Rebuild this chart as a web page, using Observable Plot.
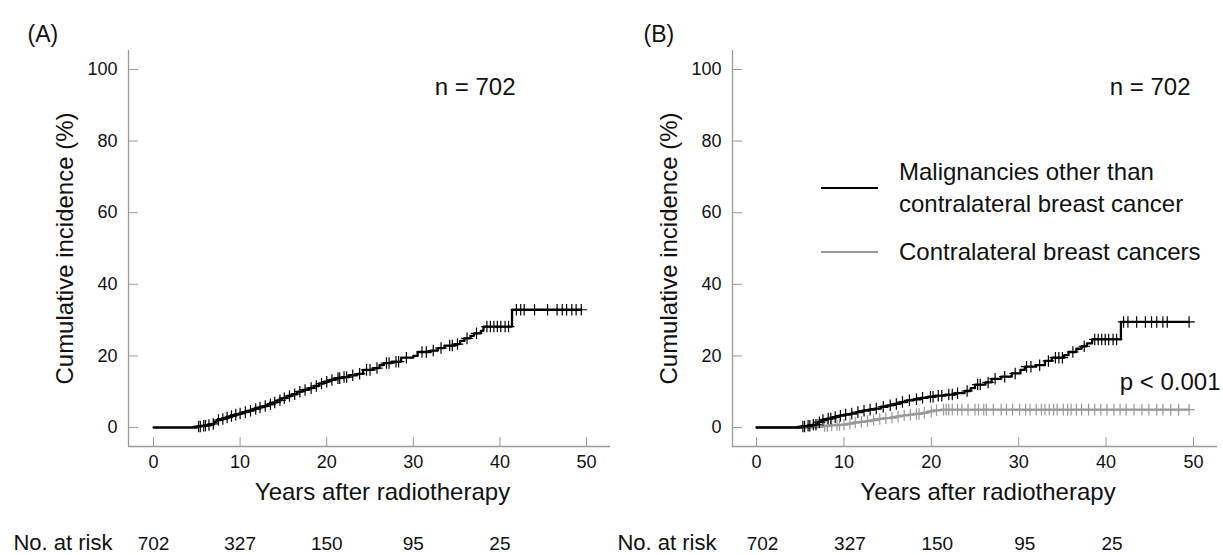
<!DOCTYPE html>
<html>
<head>
<meta charset="utf-8">
<script src="https://cdn.jsdelivr.net/npm/d3@7"></script>
<script src="https://cdn.jsdelivr.net/npm/@observablehq/plot@0.6"></script>
<style>
  html, body { margin: 0; padding: 0; background: #fff; }
  #wrap { position: relative; width: 1223px; height: 555px; overflow: hidden; font-family: "Liberation Sans", Arial, sans-serif; }
  #panelA { position: absolute; left: 0; top: 0; }
  #panelB { position: absolute; left: 611px; top: 0; }
  #legend { position: absolute; left: 821px; top: 156px; font-size: 24px; color: #111; line-height: 32px; }
  .row { display: flex; align-items: center; }
  .sw { width: 57px; height: 0; margin-right: 21px; }
</style>
</head>
<body>
<div id="wrap">
  <div id="panelA"></div>
  <div id="panelB"></div>
  <div id="legend">
    <div class="row" style="height:64px"><div class="sw" style="border-top:2.5px solid #000"></div><div>Malignancies other than<br>contralateral breast cancer</div></div>
    <div class="row" style="height:56px;margin-top:4px"><div class="sw" style="border-top:2.5px solid #999"></div><div>Contralateral breast cancers</div></div>
  </div>
</div>
<script>
// ---- Data ----
const xTicks = [0, 10, 20, 30, 40, 50];
const yTicks = [0, 20, 40, 60, 80, 100];
const riskTimes = [0, 10, 20, 30, 40];
const riskCounts = [702, 327, 150, 95, 25];

// Panel A: all second malignancies
const aTimes = [0, 5.0, 5.6, 6.2, 6.7, 7.0, 7.3, 7.8, 8.3, 8.8, 9.3, 9.8, 10.3, 10.9, 11.5, 12.1, 12.6, 13.2, 13.8, 14.3, 14.8, 15.4, 16.0, 16.6, 17.2, 17.9, 18.5, 19.1, 19.7, 20.3, 21.0, 21.8, 22.6, 23.5, 24.2, 25.4, 26.1, 26.6, 27.5, 28.6, 30.0, 30.5, 32.0, 32.8, 33.6, 34.8, 35.4, 35.9, 36.6, 37.0, 37.8, 38.1, 41.4, 49.4];
const aCum = [0, 0.3, 0.5, 0.7, 1.0, 1.6, 2.1, 2.4, 2.8, 3.2, 3.6, 3.9, 4.3, 4.7, 5.2, 5.6, 6.0, 6.5, 7.0, 7.6, 8.2, 8.8, 9.3, 10.0, 10.5, 11.0, 11.6, 12.3, 12.8, 13.3, 13.8, 14.1, 14.6, 15.0, 16.1, 16.6, 17.4, 18.0, 18.4, 19.5, 20.0, 21.1, 21.5, 22.2, 22.9, 23.3, 24.2, 24.9, 25.6, 26.3, 27.0, 28.2, 32.9, 32.9];
const aCensor = [5.2, 5.4, 5.8, 6.0, 6.4, 6.9, 7.5, 8.0, 8.5, 9.0, 9.5, 10.0, 10.6, 11.2, 11.8, 12.3, 12.9, 13.5, 14.0, 14.6, 15.1, 15.7, 16.3, 16.9, 17.5, 18.2, 18.8, 19.4, 20.0, 20.6, 21.3, 21.5, 22.0, 22.3, 23.0, 23.8, 24.6, 25.0, 25.8, 26.9, 27.2, 28.0, 28.3, 29.2, 31.0, 31.5, 32.3, 33.2, 34.2, 34.5, 35.1, 36.2, 37.3, 38.5, 38.9, 39.3, 39.7, 40.1, 40.6, 41.0, 41.9, 42.4, 42.8, 44.0, 45.5, 46.6, 47.2, 47.7, 48.3, 48.8, 49.4];

// Panel B: malignancies other than contralateral breast cancer (black)
const bOtherTimes = [0, 5.1, 5.8, 6.4, 7.0, 7.4, 8.0, 8.7, 9.4, 10.0, 10.7, 11.4, 12.1, 12.8, 13.5, 14.2, 15.0, 15.7, 16.4, 17.2, 18.0, 18.8, 19.6, 20.5, 21.6, 22.7, 23.8, 24.5, 25.0, 26.2, 26.9, 28.0, 29.2, 30.2, 30.7, 32.0, 33.0, 33.8, 35.2, 35.7, 36.6, 37.2, 37.8, 38.4, 41.7, 49.5];
const bOtherCum = [0, 0.3, 0.5, 0.8, 1.5, 2.1, 2.5, 2.9, 3.3, 3.6, 3.9, 4.3, 4.7, 5.0, 5.3, 5.8, 6.2, 6.6, 7.1, 7.6, 7.9, 8.3, 8.6, 8.9, 9.2, 9.6, 10.2, 11.0, 12.0, 12.6, 13.6, 14.2, 15.1, 16.1, 17.0, 17.4, 18.6, 19.5, 20.2, 21.1, 22.0, 22.7, 23.5, 24.6, 29.5, 29.5];
const bOtherCensor = [5.3, 5.5, 5.9, 6.1, 6.5, 6.8, 7.2, 7.6, 8.2, 8.5, 9.0, 9.6, 10.2, 10.9, 11.6, 12.3, 13.0, 13.7, 14.5, 15.3, 16.0, 16.7, 17.5, 18.3, 19.0, 19.9, 20.2, 20.8, 21.2, 22.0, 22.4, 23.0, 24.1, 25.3, 25.6, 26.5, 27.3, 28.4, 29.6, 30.9, 31.4, 32.4, 33.4, 34.2, 34.6, 35.0, 36.2, 37.5, 38.7, 39.1, 39.5, 39.9, 40.3, 40.8, 41.2, 42.0, 42.5, 43.5, 44.5, 45.2, 45.8, 46.5, 47.0, 49.5];

// Panel B: contralateral breast cancers (gray)
const bCbcTimes = [0, 7.0, 7.6, 8.3, 9.0, 9.7, 10.4, 11.1, 11.8, 12.5, 13.2, 13.9, 14.6, 15.3, 16.0, 16.7, 17.4, 18.0, 18.9, 19.6, 20.3, 21.1, 49.5];
const bCbcCum = [0, 0.2, 0.4, 0.6, 0.7, 0.8, 1.1, 1.4, 1.6, 1.8, 2.1, 2.4, 2.6, 2.8, 3.1, 3.4, 3.6, 3.8, 4.1, 4.5, 4.8, 5.0, 5.0];
const bCbcCensor = [7.8, 8.1, 8.6, 9.2, 9.5, 10.0, 10.7, 11.3, 12.0, 12.7, 13.4, 14.1, 14.8, 15.5, 16.2, 16.9, 17.6, 18.3, 18.6, 19.2, 20.0, 20.6, 21.4, 21.7, 22.0, 22.4, 23.0, 23.5, 24.2, 25.0, 25.4, 26.0, 26.3, 27.1, 28.0, 28.6, 29.3, 30.1, 30.8, 31.3, 32.0, 32.6, 33.0, 33.5, 34.0, 34.4, 35.1, 35.6, 36.0, 36.6, 37.2, 38.0, 38.7, 39.4, 40.1, 40.9, 41.6, 42.3, 43.2, 44.1, 44.9, 45.8, 46.5, 47.4, 48.3, 49.5];

// ---- Helpers ----
const FONT = '"Liberation Sans", Arial, Helvetica, sans-serif';
const steps = (times, cum) => times.map((t, i) => ({t, v: cum[i]}));
const censorPts = (censor, times, cum) => censor.map(t => {
  const i = d3.bisectRight(times, t) - 1;
  return {t, v: cum[Math.max(0, i)]};
});

function panel({xDomain, marginLeft, marginRight, letter, curves, nDx, extra = [], riskDx = 0}) {
  const yDomain = [-5.3, 105.3];
  const marks = [
    Plot.ruleX([xDomain[0]], {stroke: "#9a9a9a", strokeWidth: 1.3}),
    Plot.ruleY([yDomain[0]], {stroke: "#9a9a9a", strokeWidth: 1.3}),
    Plot.axisX({ticks: xTicks, tickSize: -9, tickPadding: 18, fontSize: 18, stroke: "#9a9a9a", fill: "#111", label: null}),
    Plot.axisY({ticks: yTicks, tickSize: -10, tickPadding: 21, fontSize: 18, stroke: "#9a9a9a", fill: "#111", label: null}),
  ];
  for (const c of curves) {
    marks.push(Plot.line(steps(c.times, c.cum), {x: "t", y: "v", curve: "step-after", stroke: c.color, strokeWidth: 2.3}));
    marks.push(Plot.dot(censorPts(c.censor, c.times, c.cum), {x: "t", y: "v", symbol: "plus", r: 3.8, stroke: c.color, strokeWidth: 1.2}));
  }
  marks.push(
    Plot.text([letter], {frameAnchor: "top-left", dx: letter === "(A)" ? -101 : -89, dy: -25, fontSize: 23, fill: "#111"}),
    Plot.text(["n = 702"], {frameAnchor: "top-right", dx: nDx, dy: 27, fontSize: 24, fill: "#111"}),
    Plot.text(["Cumulative incidence (%)"], {frameAnchor: "left", textAnchor: "middle", rotate: -90, dx: -63, fontSize: 24, fill: "#111"}),
    Plot.text(["Years after radiotherapy"], {frameAnchor: "bottom", dx: 13, dy: 53, fontSize: 24, fill: "#111"}),
    Plot.text(["No. at risk"], {frameAnchor: "bottom-left", textAnchor: "end", dx: -16, dy: 103, fontSize: 22, fill: "#111"}),
    Plot.text(riskCounts, {x: (d, i) => riskTimes[i], text: d => String(d), frameAnchor: "bottom", dx: riskDx, dy: 103, fontSize: 19, fill: "#111"}),
    ...extra
  );
  return Plot.plot({
    width: 612, height: 555,
    marginLeft, marginRight, marginTop: 50, marginBottom: 109,
    x: {domain: xDomain, label: null},
    y: {domain: yDomain, label: null},
    style: {fontFamily: FONT, background: "white", overflow: "visible"},
    marks
  });
}

document.getElementById("panelA").append(panel({
  xDomain: [-2.89, 52.77], marginLeft: 128, marginRight: 2, letter: "(A)", nDx: -95,
  curves: [{times: aTimes, cum: aCum, censor: aCensor, color: "#000"}]
}));

document.getElementById("panelB").append(panel({
  xDomain: [-2.75, 52.75], marginLeft: 121, marginRight: 6, letter: "(B)", nDx: -27, riskDx: 6,
  curves: [
    {times: bCbcTimes, cum: bCbcCum, censor: bCbcCensor, color: "#999"},
    {times: bOtherTimes, cum: bOtherCum, censor: bOtherCensor, color: "#000"}
  ],
  extra: [Plot.text(["p < 0.001"], {frameAnchor: "top-right", dx: 3, dy: 322, fontSize: 24, fill: "#111"})]
}));
</script>
</body>
</html>
